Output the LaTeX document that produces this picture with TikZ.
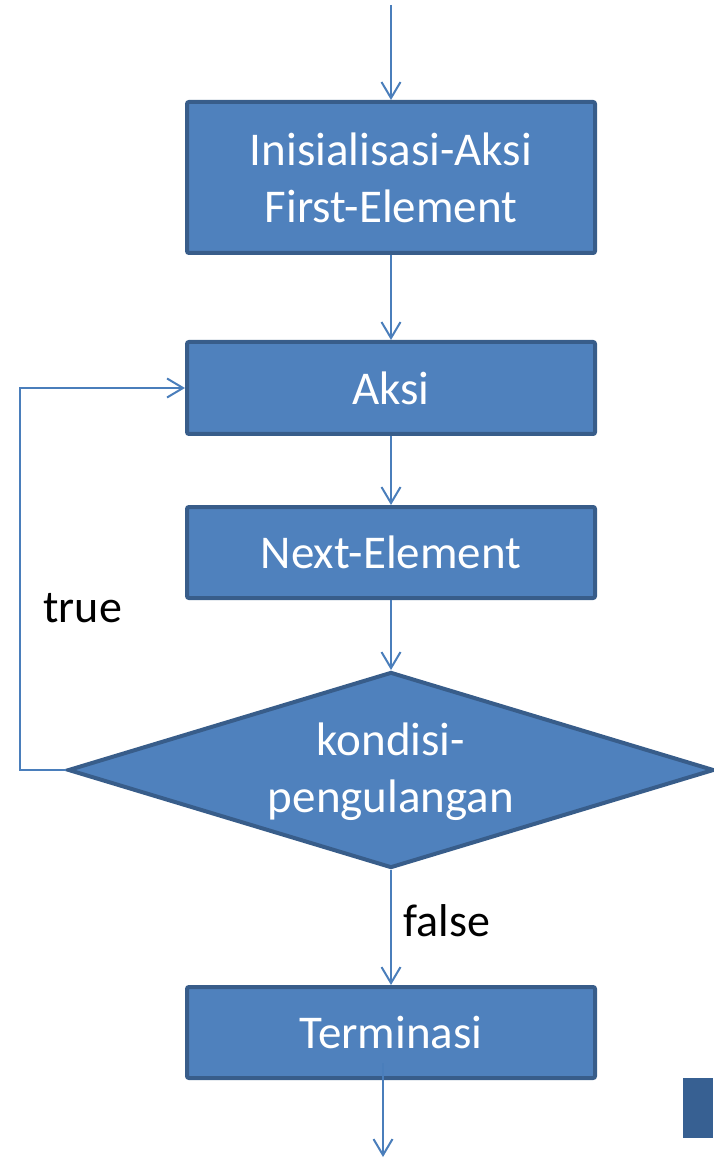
\documentclass[tikz,border=0pt]{standalone}
\usepackage{fontspec}
\setmainfont{Carlito}
\usetikzlibrary{shapes.geometric,arrows.meta}
\definecolor{boxfill}{HTML}{4F81BD}
\definecolor{boxline}{HTML}{385D8A}
\definecolor{conn}{HTML}{4A7EBB}
\definecolor{darkbox}{HTML}{376092}
\begin{document}
\begin{tikzpicture}[x=0.5pt,y=-0.5pt,
  procbox/.style={draw=boxline,fill=boxfill,line width=2pt,rounded corners=1pt,
    minimum width=204pt,inner sep=0pt,text=white,align=center,
    font=\fontsize{23.5pt}{28.5pt}\selectfont},
  decbox/.style={diamond,draw=boxline,fill=boxfill,line width=2pt,
    minimum width=323pt,minimum height=98pt,aspect=3.3,inner sep=0pt},
  conarrow/.style={draw=conn,line width=1pt,-{Straight Barb[length=8pt,width=9.5pt]}},
  lbl/.style={font=\fontsize{23pt}{28pt}\selectfont,anchor=base west,inner sep=0pt}]
\useasboundingbox (0,0) rectangle (713,1159);
\node[procbox,minimum height=75.5pt] (init) at (391,177.5) {Inisialisasi-Aksi\\First-Element};
\node[procbox,minimum height=46pt] (aksi) at (391,388) {Aksi};
\node[procbox,minimum height=45.5pt] (next) at (391,552.5) {Next-Element};
\node[decbox] (cond) at (391,770) {};
\node[text=white,align=center,font=\fontsize{23.5pt}{28.5pt}\selectfont] (condtxt) at (391,772) {kondisi-\\pengulangan};
\node[procbox,minimum height=45.5pt] (term) at (391,1032.5) {Terminasi};
\node[fill=darkbox,inner sep=0pt,minimum width=15pt,minimum height=30pt] (mark) at (698,1108) {};
\coordinate (start) at (391,5);
\coordinate (loopb) at (20,770);
\coordinate (loopt) at (20,388);
\coordinate (termout) at (383,1063);
\coordinate (endpt) at (383,1157);
\draw[conarrow] (start) -- (init.north);
\draw[conarrow] (init.south) -- (aksi.north);
\draw[conarrow] (aksi.south) -- (next.north);
\draw[conarrow] (next.south) -- (cond.north);
\draw[conarrow] (cond.south) -- (term.north);
\draw[conarrow] (cond.west) -- (loopb) -- (loopt) -- (aksi.west);
\draw[conarrow] (termout) -- (endpt);
\node[lbl] (truel) at (43,622) {true};
\node[lbl] (falsel) at (403,936) {false};
\end{tikzpicture}
\end{document}
